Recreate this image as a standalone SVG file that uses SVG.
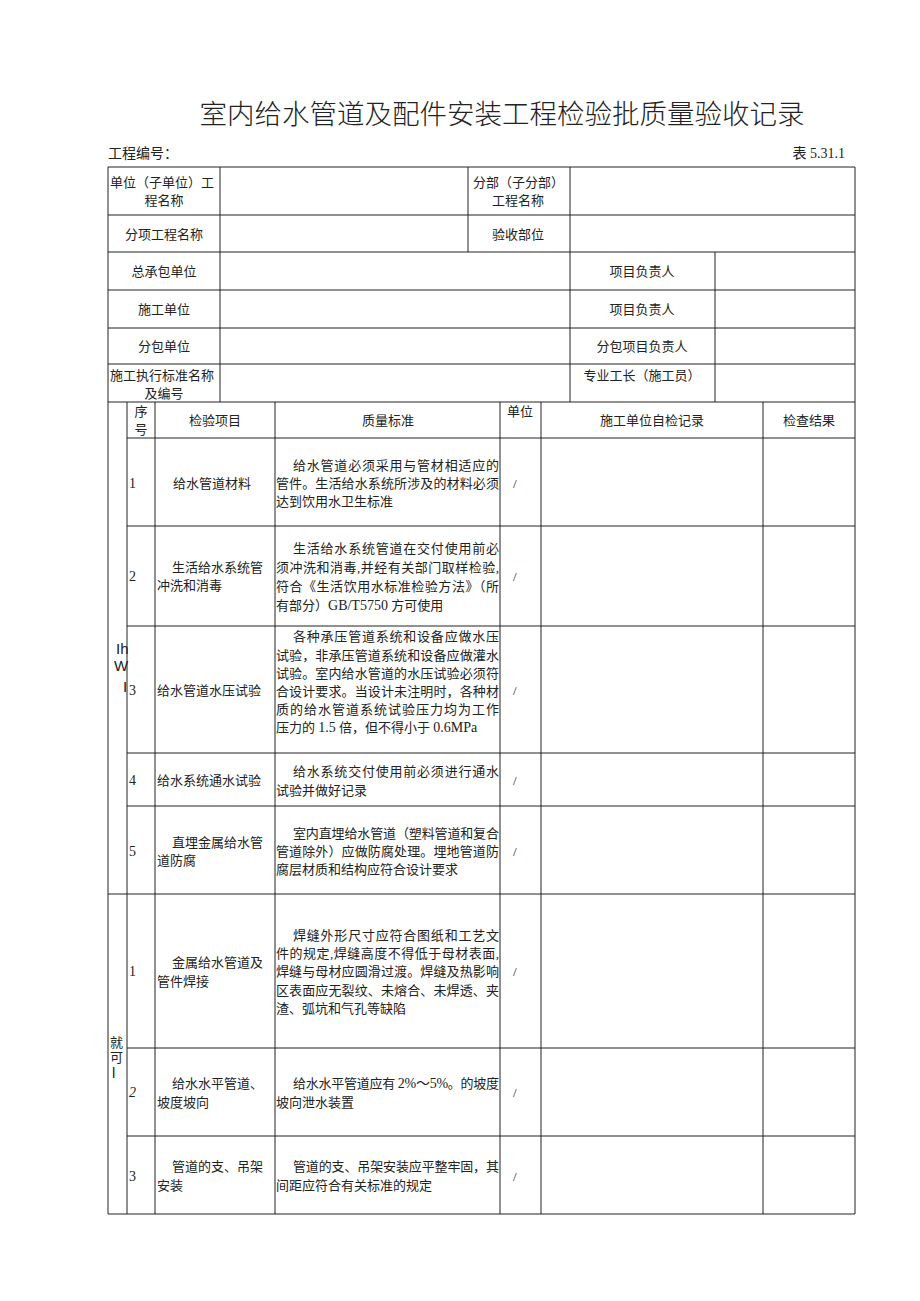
<svg xmlns="http://www.w3.org/2000/svg" width="920" height="1301" viewBox="0 0 920 1301">
<style>
.t{font-family:"Liberation Serif","Noto Sans CJK SC",serif;font-size:13px;fill:#222}
.m{text-anchor:middle}
.n{font-size:14px}
.l{font-size:14px}
.ttl{font-family:"Noto Sans CJK SC",sans-serif;font-size:27.5px;font-weight:300;fill:#222;text-anchor:middle}
.lat{font-family:"Liberation Sans",sans-serif;font-size:15px;fill:#222}
.g line{stroke:#222;stroke-width:1}
</style>
<rect width="920" height="1301" fill="#fff"/>
<g id="title">
<text class="ttl" x="502" y="124">室内给水管道及配件安装工程检验批质量验收记录</text>
<text class="t" x="108" y="158" style="font-size:14px">工程编号：</text>
<text class="t" x="845" y="158" style="font-size:14px;text-anchor:end">表 5.31.1</text>
</g>
<g id="grid" class="g">
<line x1="108" y1="167" x2="855" y2="167"/>
<line x1="108" y1="215" x2="855" y2="215"/>
<line x1="108" y1="252" x2="855" y2="252"/>
<line x1="108" y1="290" x2="855" y2="290"/>
<line x1="108" y1="328" x2="855" y2="328"/>
<line x1="108" y1="364" x2="855" y2="364"/>
<line x1="108" y1="402" x2="855" y2="402"/>
<line x1="127" y1="438" x2="855" y2="438"/>
<line x1="127" y1="526" x2="855" y2="526"/>
<line x1="127" y1="626" x2="855" y2="626"/>
<line x1="127" y1="753" x2="855" y2="753"/>
<line x1="127" y1="806" x2="855" y2="806"/>
<line x1="108" y1="894" x2="855" y2="894"/>
<line x1="127" y1="1048" x2="855" y2="1048"/>
<line x1="127" y1="1136" x2="855" y2="1136"/>
<line x1="108" y1="1214" x2="855" y2="1214"/>
<line x1="108" y1="167" x2="108" y2="1214"/>
<line x1="855" y1="167" x2="855" y2="1214"/>
<line x1="220" y1="167" x2="220" y2="402"/>
<line x1="468" y1="167" x2="468" y2="252"/>
<line x1="570" y1="167" x2="570" y2="402"/>
<line x1="715" y1="252" x2="715" y2="402"/>
<line x1="127" y1="402" x2="127" y2="1214"/>
<line x1="155" y1="402" x2="155" y2="1214"/>
<line x1="275" y1="402" x2="275" y2="1214"/>
<line x1="500" y1="402" x2="500" y2="1214"/>
<line x1="541" y1="402" x2="541" y2="1214"/>
<line x1="763" y1="402" x2="763" y2="1214"/>
</g>
<g id="info-rows" class="t">
<text x="110" y="187">单位（子单位）工</text>
<text class="m" x="164" y="205">程名称</text>
<text x="473" y="187">分部（子分部）</text>
<text class="m" x="518" y="205">工程名称</text>
<text class="m" x="164" y="239">分项工程名称</text>
<text class="m" x="518" y="239">验收部位</text>
<text class="m" x="164" y="276">总承包单位</text>
<text class="m" x="642" y="276">项目负责人</text>
<text class="m" x="164" y="314">施工单位</text>
<text class="m" x="642" y="314">项目负责人</text>
<text class="m" x="164" y="351">分包单位</text>
<text class="m" x="642" y="351">分包项目负责人</text>
<text x="110" y="380">施工执行标准名称</text>
<text class="m" x="164" y="398">及编号</text>
<text class="m" x="642" y="380">专业工长（施工员）</text>
</g>
<g id="header" class="t">
<text class="m" x="141" y="416">序</text>
<text class="m" x="141" y="434">号</text>
<text class="m" x="215" y="425">检验项目</text>
<text class="m" x="388" y="425">质量标准</text>
<text class="m" x="520" y="416">单位</text>
<text class="m" x="652" y="425">施工单位自检记录</text>
<text class="m" x="809" y="425">检查结果</text>
</g>
<g id="section-main-label" class="lat">
<text x="116" y="654">Ih</text>
<text x="114" y="671">W</text>
<text x="123" y="692">I</text>
</g>
<g id="main-1" class="t">
<text class="n" x="129" y="488">1</text>
<text class="m" x="212" y="488">给水管道材料</text>
<text x="293" y="470" textLength="206">给水管道必须采用与管材相适应的</text>
<text x="276" y="488" textLength="223">管件。生活给水系统所涉及的材料必须</text>
<text x="276" y="506">达到饮用水卫生标准</text>
<text x="513" y="488">/</text>
</g>
<g id="main-2" class="t">
<text class="n" x="129" y="581">2</text>
<text x="172" y="572">生活给水系统管</text>
<text x="157" y="590">冲洗和消毒</text>
<text x="293" y="553" textLength="206">生活给水系统管道在交付使用前必</text>
<text x="276" y="572" textLength="223">须冲洗和消毒,并经有关部门取样检验,</text>
<text x="276" y="591" textLength="223">符合《生活饮用水标准检验方法》（所</text>
<text x="276" y="610">有部分）<tspan class="l">GB/T5750</tspan> 方可使用</text>
<text x="513" y="581">/</text>
</g>
<g id="main-3" class="t">
<text class="n" x="129" y="695">3</text>
<text x="157" y="695">给水管道水压试验</text>
<text x="293" y="641" textLength="206">各种承压管道系统和设备应做水压</text>
<text x="276" y="660" textLength="223">试验，非承压管道系统和设备应做灌水</text>
<text x="276" y="678" textLength="223">试验。室内给水管道的水压试验必须符</text>
<text x="276" y="696" textLength="223">合设计要求。当设计未注明时，各种材</text>
<text x="276" y="714" textLength="223">质的给水管道系统试验压力均为工作</text>
<text x="276" y="732">压力的 <tspan class="l">1.5</tspan> 倍，但不得小于 <tspan class="l">0.6MPa</tspan></text>
<text x="513" y="695">/</text>
</g>
<g id="main-4" class="t">
<text class="n" x="129" y="785">4</text>
<text x="157" y="785">给水系统通水试验</text>
<text x="293" y="776" textLength="206">给水系统交付使用前必须进行通水</text>
<text x="276" y="795">试验并做好记录</text>
<text x="513" y="785">/</text>
</g>
<g id="main-5" class="t">
<text class="n" x="129" y="856">5</text>
<text x="172" y="847">直埋金属给水管</text>
<text x="157" y="865">道防腐</text>
<text x="293" y="838" textLength="206">室内直埋给水管道（塑料管道和复合</text>
<text x="276" y="856" textLength="223">管道除外）应做防腐处理。埋地管道防</text>
<text x="276" y="874">腐层材质和结构应符合设计要求</text>
<text x="513" y="856">/</text>
</g>
<g id="section-general-label" class="t">
<text x="110" y="1047">就</text>
<text x="110" y="1062">可</text>
<text class="lat" x="112" y="1078">l</text>
</g>
<g id="general-1" class="t">
<text class="n" x="129" y="976">1</text>
<text x="172" y="967">金属给水管道及</text>
<text x="157" y="986">管件焊接</text>
<text x="293" y="940" textLength="206">焊缝外形尺寸应符合图纸和工艺文</text>
<text x="276" y="958" textLength="223">件的规定,焊缝高度不得低于母材表面,</text>
<text x="276" y="976" textLength="223">焊缝与母材应圆滑过渡。焊缝及热影响</text>
<text x="276" y="995" textLength="223">区表面应无裂纹、未熔合、未焊透、夹</text>
<text x="276" y="1013">渣、弧坑和气孔等缺陷</text>
<text x="513" y="976">/</text>
</g>
<g id="general-2" class="t">
<text class="n" x="129" y="1097" font-style="italic">2</text>
<text x="172" y="1088">给水水平管道、</text>
<text x="157" y="1107">坡度坡向</text>
<text x="293" y="1088" textLength="206">给水水平管道应有 <tspan class="l">2%～5%</tspan>。的坡度</text>
<text x="276" y="1107">坡向泄水装置</text>
<text x="513" y="1097">/</text>
</g>
<g id="general-3" class="t">
<text class="n" x="129" y="1181">3</text>
<text x="172" y="1171">管道的支、吊架</text>
<text x="157" y="1190">安装</text>
<text x="293" y="1171" textLength="206">管道的支、吊架安装应平整牢固，其</text>
<text x="276" y="1190">间距应符合有关标准的规定</text>
<text x="513" y="1181">/</text>
</g>
</svg>
